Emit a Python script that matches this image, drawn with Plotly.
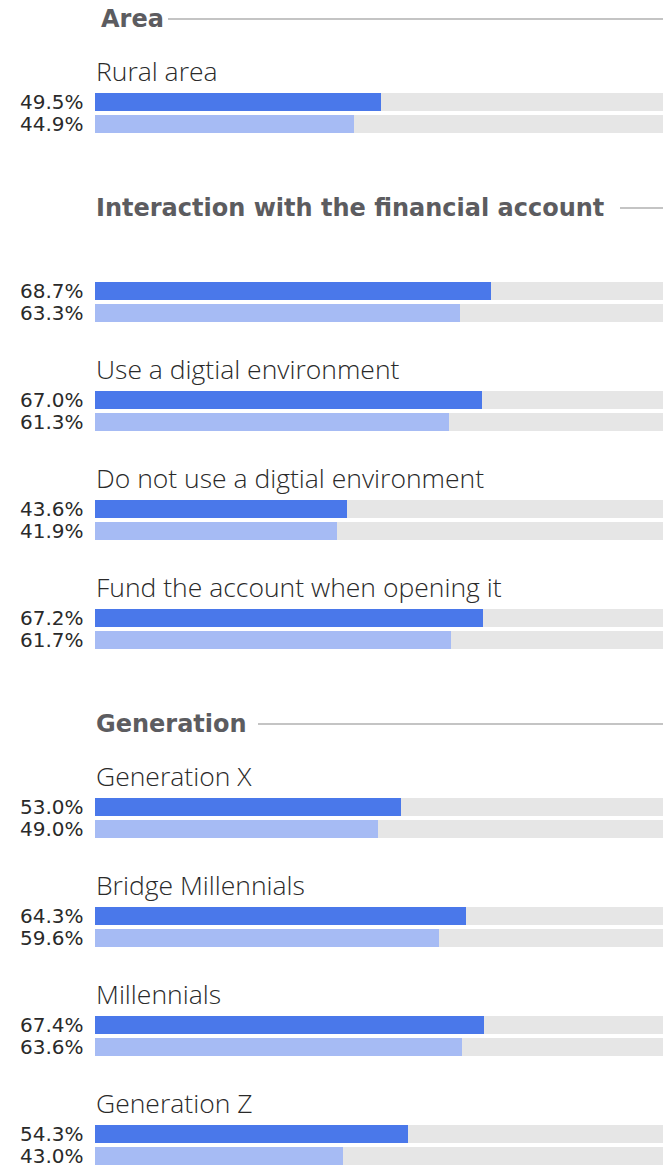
import plotly.graph_objects as go

# --- data -------------------------------------------------------------
sections = ["Area", "Interaction with the financial account", "Generation"]
row_section = [0, 1, 1, 1, 1, 2, 2, 2, 2]
categories = [
    "Rural area",
    "",
    "Use a digtial environment",
    "Do not use a digtial environment",
    "Fund the account when opening it",
    "Generation X",
    "Bridge Millennials",
    "Millennials",
    "Generation Z",
]
series_dark = [49.5, 68.7, 67.0, 43.6, 67.2, 53.0, 64.3, 67.4, 54.3]
series_light = [44.9, 63.3, 61.3, 41.9, 61.7, 49.0, 59.6, 63.6, 43.0]

# --- layout constants (pixels) ----------------------------------------
W, H = 663, 1166
BAR_X0 = 95          # left edge of the bars
PX_PER_PCT = 5.77    # horizontal scale
BAR_H = 17.5
PAIR_GAP = 22        # centre distance between the two bars of a row
ROW_STEP = 109
HEADER_TO_BAR = 83
BAR_TO_HEADER = 106
LABEL_ABOVE = 31

DARK = "#4a78ea"
LIGHT = "#a6bbf4"
TRACK = "#e6e6e6"
HEAD_COLOR = "#5c5c60"
TEXT_COLOR = "#2a2a2a"

header_x = [99, 94, 94]
header_line_x = [168, 620, 258]

# vertical positions built from the section structure
header_y, dark_y = [], []
cursor = 19
prev = None
for sec in row_section:
    if sec != prev:
        if prev is not None:
            cursor = dark_y[-1] + BAR_TO_HEADER
        header_y.append(cursor)
        cursor += HEADER_TO_BAR
        prev = sec
    else:
        cursor += ROW_STEP
    dark_y.append(cursor)
light_y = [y + PAIR_GAP for y in dark_y]

fig = go.Figure()

# grey tracks
fig.add_trace(go.Bar(
    x=[100] * (2 * len(categories)), y=dark_y + light_y, base=0,
    orientation="h", width=BAR_H, marker=dict(color=TRACK, line_width=0),
    hoverinfo="skip", showlegend=False,
))
fig.add_trace(go.Bar(
    x=series_dark, y=dark_y, base=0, orientation="h", width=BAR_H,
    marker=dict(color=DARK, line_width=0), showlegend=False,
))
fig.add_trace(go.Bar(
    x=series_light, y=light_y, base=0, orientation="h", width=BAR_H,
    marker=dict(color=LIGHT, line_width=0), showlegend=False,
))

annotations = []
shapes = []
for i, name in enumerate(sections):
    annotations.append(dict(
        text=f"<b>{name}</b>", x=header_x[i] / W, xref="paper", xanchor="left",
        y=header_y[i], yref="y", yanchor="middle", showarrow=False,
        font=dict(family="DejaVu Sans", size=24, color=HEAD_COLOR),
    ))
    shapes.append(dict(
        type="line", xref="paper", yref="y",
        x0=header_line_x[i] / W, x1=1, y0=header_y[i], y1=header_y[i],
        line=dict(color="#8a8a8a", width=1.2),
    ))

for cat, vd, vl, yd, yl in zip(categories, series_dark, series_light, dark_y, light_y):
    if cat:
        annotations.append(dict(
            text=cat, x=94 / W, xref="paper", xanchor="left",
            y=yd - LABEL_ABOVE, yref="y", yanchor="middle", showarrow=False,
            font=dict(family="Open Sans", size=26.5, color=TEXT_COLOR, weight=300),
        ))
    for v, y in ((vd, yd), (vl, yl)):
        annotations.append(dict(
            text=f"{v:.1f}%", x=86 / W, xref="paper", xanchor="right",
            y=y, yref="y", yanchor="middle", showarrow=False,
            font=dict(family="DejaVu Sans", size=20, color=TEXT_COLOR),
        ))

fig.update_layout(
    width=W, height=H, margin=dict(l=0, r=0, t=0, b=0),
    paper_bgcolor="white", plot_bgcolor="white",
    barmode="overlay", bargap=0,
    xaxis=dict(range=[-BAR_X0 / PX_PER_PCT, (W - BAR_X0) / PX_PER_PCT],
               visible=False, fixedrange=True),
    yaxis=dict(range=[H, 0], visible=False, fixedrange=True),
    annotations=annotations, shapes=shapes,
)

fig.write_html("out.html")
